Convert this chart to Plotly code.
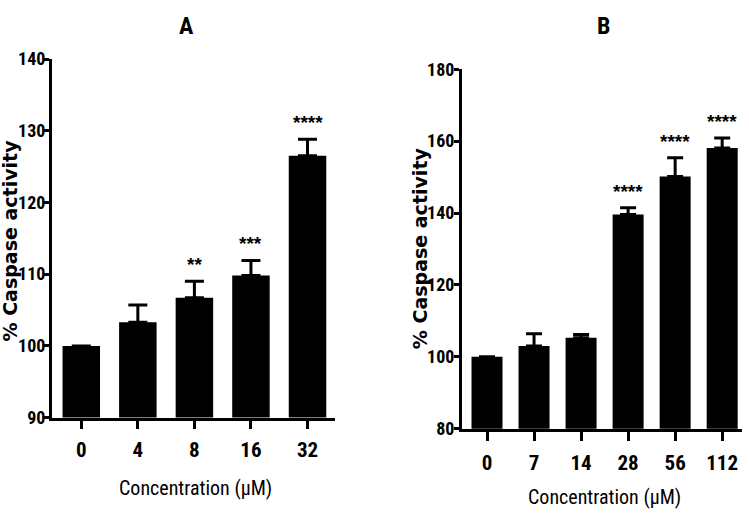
import plotly.graph_objects as go

# Panel A data
conc_a = ["0", "4", "8", "16", "32"]
mean_a = [100.0, 103.3, 106.7, 109.8, 126.5]
err_a = [0.0, 2.4, 2.3, 2.1, 2.3]
stars_a = ["", "", "**", "***", "****"]

# Panel B data
conc_b = ["0", "7", "14", "28", "56", "112"]
mean_b = [100.0, 103.0, 105.3, 139.6, 150.2, 158.1]
err_b = [0.0, 3.4, 0.9, 1.9, 5.2, 2.8]
stars_b = ["", "", "", "****", "****", "****"]

yticks_a = [90, 100, 110, 120, 130, 140]
yticks_b = [80, 100, 120, 140, 160, 180]

COND = "Roboto Condensed, Open Sans Condensed, DejaVu Sans Condensed, sans-serif"
SANS = "Liberation Sans, Arial, sans-serif"
BOLDW = "DejaVu Sans, Liberation Sans, Arial, sans-serif"

fig = go.Figure()

fig.add_trace(go.Bar(
    x=conc_a, y=mean_a, xaxis="x", yaxis="y", width=0.663,
    marker=dict(color="black", line=dict(width=0)),
    error_y=dict(type="data", array=err_a, arrayminus=[0]*len(err_a), symmetric=False,
                 color="black", thickness=3, width=9.5),
    showlegend=False))

fig.add_trace(go.Bar(
    x=conc_b, y=mean_b, xaxis="x2", yaxis="y2", width=0.659,
    marker=dict(color="black", line=dict(width=0)),
    error_y=dict(type="data", array=err_b, arrayminus=[0]*len(err_b), symmetric=False,
                 color="black", thickness=3, width=8),
    showlegend=False))

annotations = []
for i, (m, e, s) in enumerate(zip(mean_a, err_a, stars_a)):
    if s:
        annotations.append(dict(x=i, y=m + e, xref="x", yref="y", text=s, showarrow=False,
                                yanchor="middle", yshift=17,
                                font=dict(family=SANS, size=19, color="black", weight="bold")))
for i, (m, e, s) in enumerate(zip(mean_b, err_b, stars_b)):
    if s:
        annotations.append(dict(x=i, y=m + e, xref="x2", yref="y2", text=s, showarrow=False,
                                yanchor="middle", yshift=16,
                                font=dict(family=SANS, size=19, color="black", weight="bold")))

# Titles and axis titles
annotations += [
    dict(text="A", x=186.7/749, y=1-15.5/527, xref="paper", yref="paper", showarrow=False,
         xanchor="center", yanchor="middle", font=dict(family=COND, size=24, color="black", weight="bold")),
    dict(text="B", x=603/749, y=1-15.5/527, xref="paper", yref="paper", showarrow=False,
         xanchor="center", yanchor="middle", font=dict(family=COND, size=24, color="black", weight="bold")),
    dict(text="% Caspase activity", x=10/749, y=1-239/527, xref="paper", yref="paper", showarrow=False,
         textangle=-90, xanchor="center", yanchor="middle",
         font=dict(family=BOLDW, size=19, color="black", weight="bold")),
    dict(text="% Caspase activity", x=420/749, y=1-247/527, xref="paper", yref="paper", showarrow=False,
         textangle=-90, xanchor="center", yanchor="middle",
         font=dict(family=BOLDW, size=19, color="black", weight="bold")),
    dict(text="Concentration (μM)", x=195/749, y=1-497/527, xref="paper", yref="paper", showarrow=False,
         xanchor="center", yanchor="middle", font=dict(family=COND, size=20, color="black")),
    dict(text="Concentration (μM)", x=604.7/749, y=1-506/527, xref="paper", yref="paper", showarrow=False,
         xanchor="center", yanchor="middle", font=dict(family=COND, size=20, color="black")),
]

axis_common = dict(showgrid=False, zeroline=False, showline=True, linecolor="black", linewidth=2.5,
                   ticks="outside", tickcolor="black", tickwidth=2.5)
xtickfont = dict(family=COND, size=21, color="black", weight="bold")
ytickfont = dict(family=COND, size=18, color="black", weight="bold")

fig.update_layout(
    width=749, height=527,
    margin=dict(l=0, r=0, t=0, b=0),
    paper_bgcolor="white", plot_bgcolor="white",
    annotations=annotations,
    xaxis=dict(domain=[51.7/749, 335/749], anchor="y", type="category", range=[-0.523, 4.486],
               ticklen=9, ticklabelstandoff=2, tickfont=xtickfont, **axis_common),
    yaxis=dict(domain=[1-423.5/527, 1-50/527], anchor="x", range=[90, 140],
               tickvals=yticks_a, ticklen=5, ticklabelstandoff=-5, tickfont=ytickfont, **axis_common),
    xaxis2=dict(domain=[461.7/749, 741.7/749], anchor="y2", type="category", range=[-0.538, 5.415],
                ticklen=10, ticklabelstandoff=3, tickfont=xtickfont, **axis_common),
    yaxis2=dict(domain=[1-435/527, 1-60.7/527], anchor="x2", range=[80, 180],
                tickvals=yticks_b, ticklen=5, ticklabelstandoff=-4, tickfont=ytickfont, **axis_common),
)

fig.write_html("out.html")
